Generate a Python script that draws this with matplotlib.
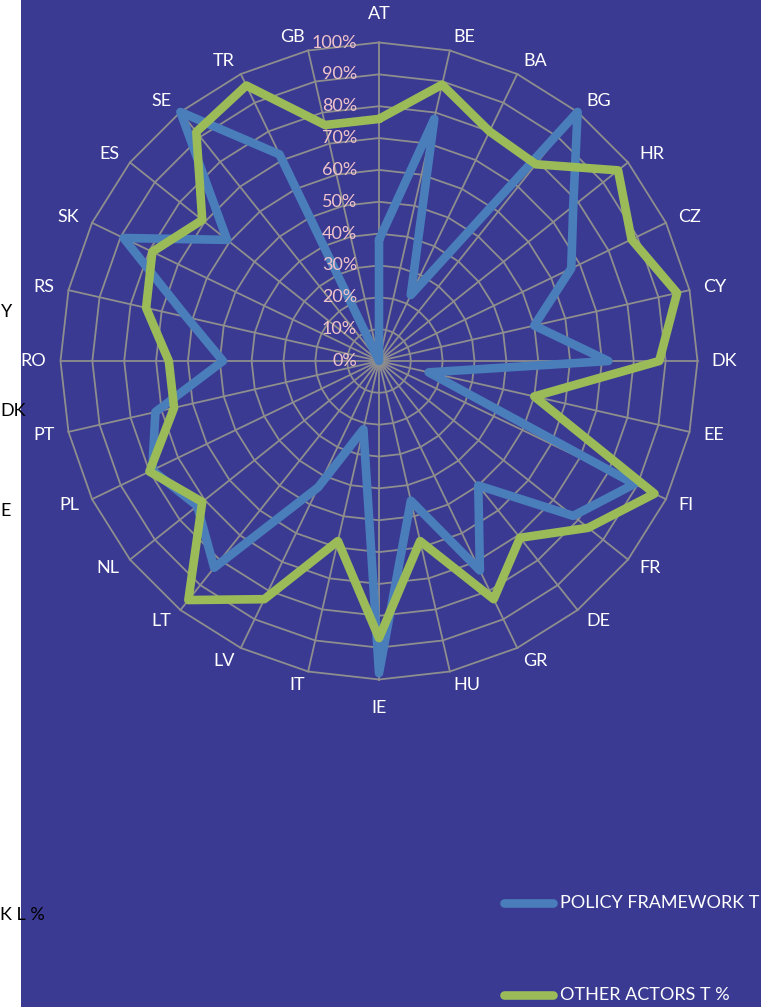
import numpy as np
import matplotlib
matplotlib.use("Agg")
import matplotlib.pyplot as plt
from matplotlib.lines import Line2D
from matplotlib.patches import Rectangle

# ---- data -------------------------------------------------------------
countries = ["AT", "BE", "BA", "BG", "HR", "CZ", "CY", "DK", "EE", "FI",
             "FR", "DE", "GR", "HU", "IE", "IT", "LV", "LT", "NL", "PL",
             "PT", "RO", "RS", "SK", "ES", "SE", "TR", "GB"]
policy_framework = [38, 78, 23, 100, 78, 67, 50, 72, 16, 89,
                    78, 50, 73, 45, 98, 22, 44, 83, 73, 79,
                    72, 49, 62, 89, 61, 100, 72, 0]
other_actors = [76, 89, 80, 79, 96, 88, 96, 88, 50, 96,
                84, 71, 83, 58, 87, 58, 83, 96, 71, 80,
                66, 66, 75, 79, 71, 92, 96, 76]
ring_levels = [0, 10, 20, 30, 40, 50, 60, 70, 80, 90, 100]
series_names = ["POLICY FRAMEWORK T", "OTHER ACTORS T %"]
side_labels = ["Y", "DK", "E", "K L %"]

# ---- style ------------------------------------------------------------
W, H, DPI = 761, 1007, 100
BG = "#3A3A93"
GRID = "#8E8E8E"
BLUE = "#4A7EBB"
GREEN = "#9BBB59"
PINK = "#F0C3CA"
FONT = "Lato"
FS = 13
LW = 6.2

plt.rcParams["font.family"] = [FONT, "DejaVu Sans"]

fig = plt.figure(figsize=(W / DPI, H / DPI), dpi=DPI, facecolor=BG)

# white margin strip on the left edge
fig.patches.append(Rectangle((0, 0), 21 / W, 1, transform=fig.transFigure,
                             facecolor="white", edgecolor="none", zorder=0))
for txt, yc in zip(side_labels, [312, 411, 511, 915]):
    fig.text(0.5 / W, 1 - yc / H, txt, ha="left", va="center",
             color="black", fontsize=FS)

# ---- radar axes -------------------------------------------------------
cx, cy, R = 379, 361, 318.5
ax = fig.add_axes([(cx - R) / W, (H - cy - R) / H, 2 * R / W, 2 * R / H],
                  projection="polar")
ax.set_theta_zero_location("N")
ax.set_theta_direction(-1)
ax.set_ylim(0, 100)
ax.patch.set_visible(False)
ax.grid(False)
ax.spines["polar"].set_visible(False)
ax.set_xticks([])
ax.set_yticks([])

n = len(countries)
angles = np.arange(n) * 2 * np.pi / n
closed = np.append(angles, angles[0])

# polygonal rings and spokes
for lvl in ring_levels[1:]:
    ax.plot(closed, [lvl] * (n + 1), color=GRID, lw=1.3, zorder=1, clip_on=False)
for a in angles:
    ax.plot([a, a], [0, ring_levels[-1]], color=GRID, lw=1.3, zorder=1, clip_on=False)

# series
series = [policy_framework, other_actors]
colors = [BLUE, GREEN]
for k, (vals, col) in enumerate(zip(series, colors)):
    ax.plot(closed, list(vals) + [vals[0]], color=col, lw=LW,
            solid_joinstyle="round", solid_capstyle="round",
            zorder=3 + k, clip_on=False)

# category labels: side labels hug the spoke end, top/bottom ones centred
for a, name in zip(angles, countries):
    sx = np.sin(a)
    if abs(sx) < 1e-6:
        ax.text(a, 109.1, name, ha="center", va="center", color="white",
                fontsize=FS, zorder=6)
    else:
        ax.text(a, 104.4, name, ha="left" if sx > 0 else "right",
                va="center", color="white", fontsize=FS, zorder=6)

# radial value labels along the top spoke
for lvl in ring_levels:
    ax.annotate(f"{lvl}%", xy=(0, lvl), xytext=(-22, 0),
                textcoords="offset pixels", ha="right", va="center",
                color=PINK, fontsize=FS, zorder=7, annotation_clip=False)

# ---- legend -------------------------------------------------------------
for name, col, yc in zip(series_names, colors, [903, 995]):
    fig.add_artist(Line2D([504 / W, 553 / W], [1 - yc / H] * 2, color=col,
                          lw=LW, solid_capstyle="round",
                          transform=fig.transFigure))
    fig.text(560 / W, 1 - yc / H, name, ha="left", va="center",
             color="white", fontsize=FS)

fig.savefig("out.png", dpi=DPI, facecolor=BG)
